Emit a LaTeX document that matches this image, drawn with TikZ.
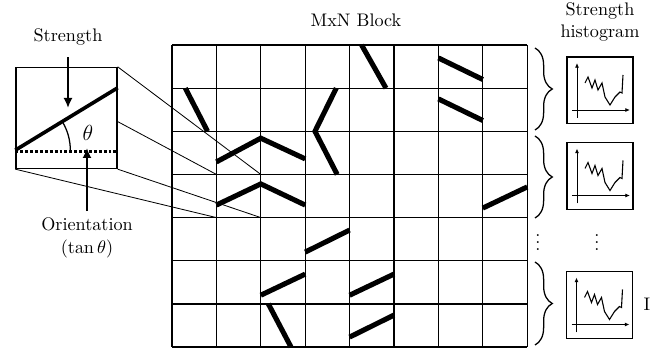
\documentclass[tikz,border=0pt]{standalone}
\usepackage{amsmath}
\usepackage{tikz}
\usetikzlibrary{arrows.meta,positioning,calc,decorations.pathreplacing}
\tikzset{
  cellgrid/.style={line width=0.7pt},
  edgestroke/.style={line width=2.8pt},
  zoomline/.style={line width=0.45pt},
  detailbox/.style={draw,line width=0.8pt,minimum size=55.5pt,inner sep=0pt},
  histbox/.style={draw,line width=0.6pt,minimum width=36.3pt,minimum height=36.8pt,inner sep=0pt},
  pointarrow/.style={-{Latex[length=5.5pt,width=5pt]},line width=1.1pt},
  axisarrow/.style={-{Latex[length=2.6pt,width=2.2pt]},line width=0.5pt},
  blockbrace/.style={decorate,decoration={brace,amplitude=9.5pt},line width=0.7pt},
  figurelabel/.style={align=center},
  histplot/.pic={
    \draw[axisarrow] (-23,-27.5) -- (-23,27.5);
    \draw[axisarrow] (-28,-19.5) -- (30,-19.5);
    \draw[line width=0.6pt] (-15,7.5) -- (-12,13.5) -- (-8,2.5) -- (-5,10.5) -- (-2,0.5)
      -- (2,7.5) -- (5,-6.5) -- (10,-14.5) -- (15,-6.5) -- (20,-1.5) -- (22,-2.5) -- (23,15.5);
  }
}

\begin{document}
\begin{tikzpicture}[x=0.55pt,y=0.55pt]
  \useasboundingbox (0,0) rectangle (655,350);
  % one cell, enlarged
  \node[detailbox] (detail) at (66.5,232) {};
  \node[figurelabel] (strength) at (68,313) {Strength};
  \node[figurelabel] (orient) at (87,112) {Orientation\\[1pt](\(\tan\theta\))};
  \coordinate (strength-tip) at (68,242);
  \coordinate (orient-tip) at (87,202);
  \draw[pointarrow,shorten <=3pt] (strength) -- (strength-tip);
  \draw[pointarrow] (orient) -- (orient-tip);
  \coordinate (edge-a) at ($(detail.south west)+(0,19)$);
  \coordinate (edge-b) at ($(detail.north east)+(0,-21)$);
  \draw[edgestroke,line width=2pt] (edge-a) -- (edge-b);
  \draw[line width=1.3pt,dash pattern=on 1.6pt off 1.1pt] ($(detail.south west)+(0,17.5)$) -- ($(detail.south east)+(0,17.5)$);
  \draw[line width=0.7pt] ($(edge-a)+(55,0)$) arc[start angle=0,end angle=31,radius=55];
  \node (theta) at (88,217) {\large\(\theta\)};

  % MxN block of cells
  \node[figurelabel] (block-title) at (356,330) {MxN Block};
  \begin{scope}[shift={(172,305)},x=24.42pt,y=-23.73pt]
    \foreach \i in {0,...,8} \draw[cellgrid] (\i,0) -- (\i,7);
    \foreach \j in {0,...,7} \draw[cellgrid] (0,\j) -- (8,\j);
    \draw[edgestroke] (4.27,0) -- (4.82,1);
    \draw[edgestroke] (6,0.3) -- (7,0.8);
    \draw[edgestroke] (6,1.25) -- (7,1.75);
    \draw[edgestroke] (0.3,1) -- (0.8,2);
    \draw[edgestroke] (3.7,1) -- (3.22,2) -- (3.72,3);
    \draw[edgestroke] (1,2.71) -- (2,2.16) -- (3,2.64);
    \draw[edgestroke] (1,3.71) -- (2,3.22) -- (3,3.71);
    \draw[edgestroke] (7,3.78) -- (8,3.29);
    \draw[edgestroke] (3,4.8) -- (4,4.29);
    \draw[edgestroke] (2,5.8) -- (3,5.31);
    \draw[edgestroke] (4,5.8) -- (5,5.31);
    \draw[edgestroke] (2.17,6) -- (2.68,7);
    \draw[edgestroke] (4,6.77) -- (5,6.26);
    \coordinate (cell-tl) at (1,3);
    \coordinate (cell-tr) at (2,3);
    \coordinate (cell-bl) at (1,4);
    \coordinate (cell-br) at (2,4);
  \end{scope}

  % projection lines
  \draw[zoomline] ($(detail.north west)!0.5025!(cell-tl)$) -- (cell-tl);
  \draw[zoomline] (detail.north east) -- (cell-tr);
  \draw[zoomline] (detail.south east) -- (cell-br);
  \draw[zoomline] (detail.south west) -- (cell-bl);

  % row groups and histograms
  \draw[blockbrace] (535,302) -- (535,220);
  \draw[blockbrace] (535,214) -- (535,132);
  \draw[blockbrace] (535,88) -- (535,5);
  \node[figurelabel] (hist-title) at (600,328) {Strength\\histogram};
  \node[histbox] (hist-a) at (600,259.5) {};
  \node[histbox] (hist-b) at (600,174) {};
  \node[histbox] (hist-c) at (599.5,45) {};
  \foreach \h in {hist-a,hist-b,hist-c} \pic at (\h) {histplot};
  \node[inner sep=0pt] (vdots-a) at (538,113) {\(\vdots\)};
  \node[inner sep=0pt] (vdots-b) at (597,113) {\(\vdots\)};
  \node (cut-label) at (647,46) {I};
\end{tikzpicture}
\end{document}
